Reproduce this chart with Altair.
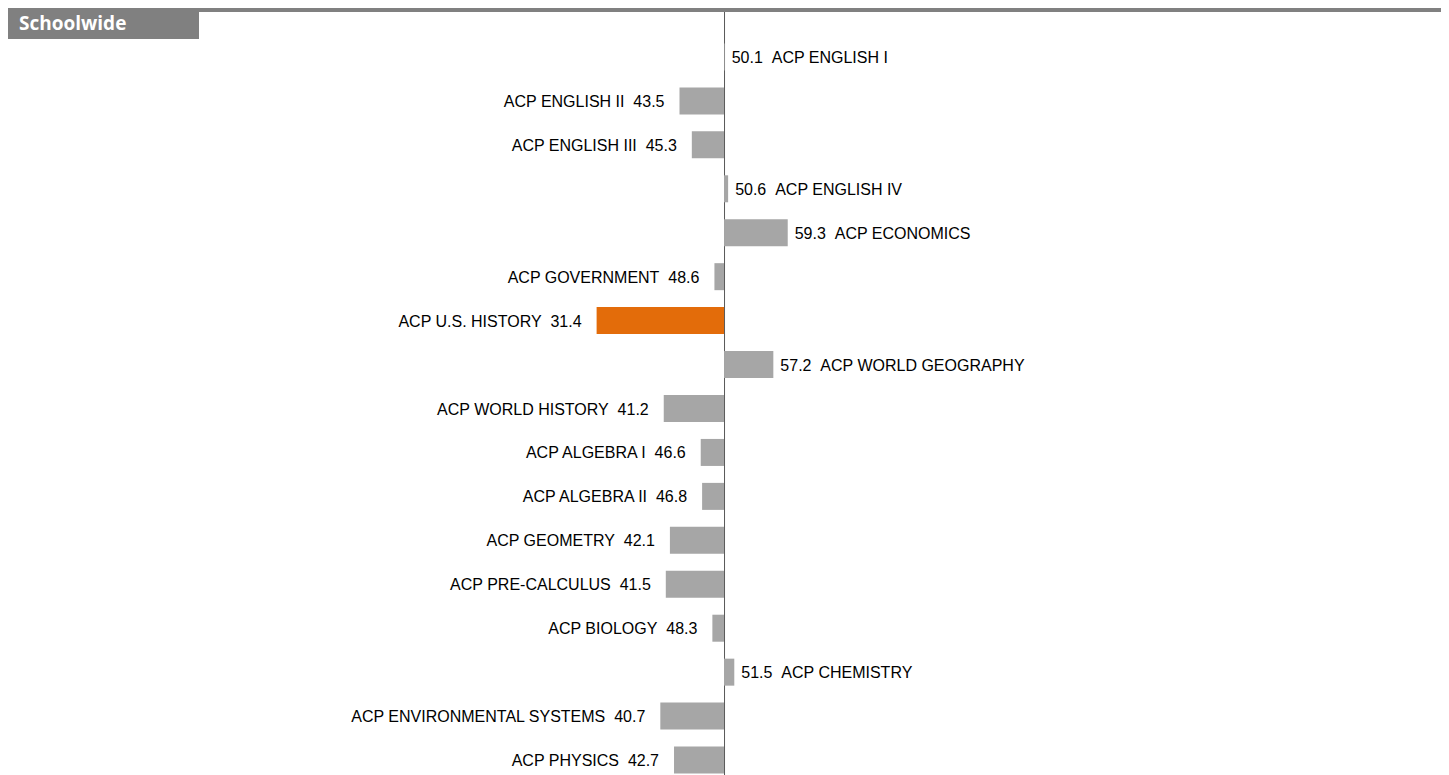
import altair as alt
import pandas as pd

courses = [
    "ACP ENGLISH I", "ACP ENGLISH II", "ACP ENGLISH III", "ACP ENGLISH IV",
    "ACP ECONOMICS", "ACP GOVERNMENT", "ACP U.S. HISTORY", "ACP WORLD GEOGRAPHY",
    "ACP WORLD HISTORY", "ACP ALGEBRA I", "ACP ALGEBRA II", "ACP GEOMETRY",
    "ACP PRE-CALCULUS", "ACP BIOLOGY", "ACP CHEMISTRY",
    "ACP ENVIRONMENTAL SYSTEMS", "ACP PHYSICS",
]
scores = [50.1, 43.5, 45.3, 50.6, 59.3, 48.6, 31.4, 57.2, 41.2, 46.6, 46.8,
          42.1, 41.5, 48.3, 51.5, 40.7, 42.7]
highlight = "ACP U.S. HISTORY"
baseline = 50
title_text = "Schoolwide"

df = pd.DataFrame({"course": courses, "value": scores})
df["base"] = baseline
df["hl"] = df["course"] == highlight

W, H = 1433, 767
NB = "\u00a0\u00a0"

xscale = alt.Scale(domain=[-54.53, 154.67], nice=False, zero=False)
yscale = alt.Scale(range=[27, 774], paddingInner=0.3855, paddingOuter=0.19275)

base = alt.Chart(df)

bars = base.mark_bar().encode(
    x=alt.X("value:Q", scale=xscale, axis=None),
    x2="base:Q",
    y=alt.Y("course:N", sort=None, scale=yscale, axis=None),
    color=alt.condition("datum.hl", alt.value("#E36C0A"), alt.value("#A6A6A6")),
)

right_labels = base.transform_filter(f"datum.value >= {baseline}").transform_calculate(
    label=f"format(datum.value, '.1f') + '{NB}' + datum.course"
).mark_text(align="left", baseline="middle", dx=7, dy=1, font="Liberation Sans",
            fontSize=16, color="#000000").encode(
    x=alt.X("value:Q", scale=xscale, axis=None),
    y=alt.Y("course:N", sort=None, scale=yscale, axis=None),
    text="label:N",
)

left_labels = base.transform_filter(f"datum.value < {baseline}").transform_calculate(
    label=f"datum.course + '{NB}' + format(datum.value, '.1f')"
).mark_text(align="right", baseline="middle", dx=-15, dy=1, font="Liberation Sans",
            fontSize=16, color="#000000").encode(
    x=alt.X("value:Q", scale=xscale, axis=None),
    y=alt.Y("course:N", sort=None, scale=yscale, axis=None),
    text="label:N",
)

axis_line = alt.Chart(pd.DataFrame({"b": [baseline]})).mark_rule(
    color="#595959", strokeWidth=1, xOffset=0.5
).encode(
    x=alt.X("b:Q", scale=xscale, axis=None),
    y=alt.value(0),
    y2=alt.value(H),
)

hdr = pd.DataFrame({"t": [title_text]})
band = alt.Chart(hdr).mark_rect(color="#808080").encode(
    x=alt.value(0), x2=alt.value(W), y=alt.value(0), y2=alt.value(4)
)
box = alt.Chart(hdr).mark_rect(color="#808080").encode(
    x=alt.value(0), x2=alt.value(191), y=alt.value(0), y2=alt.value(31)
)
box_text = alt.Chart(hdr).mark_text(
    align="left", baseline="middle", font="Open Sans", fontWeight="bold",
    fontSize=19, color="#FFFFFF"
).encode(x=alt.value(11), y=alt.value(16), text="t:N")

chart = alt.layer(axis_line, bars, right_labels, left_labels, band, box, box_text).properties(
    width=W, height=H, autosize=alt.AutoSizeParams(type="none"), padding=0,
).configure_view(stroke=None)

chart.save("out.html", embed_options={"renderer": "svg", "actions": False})
